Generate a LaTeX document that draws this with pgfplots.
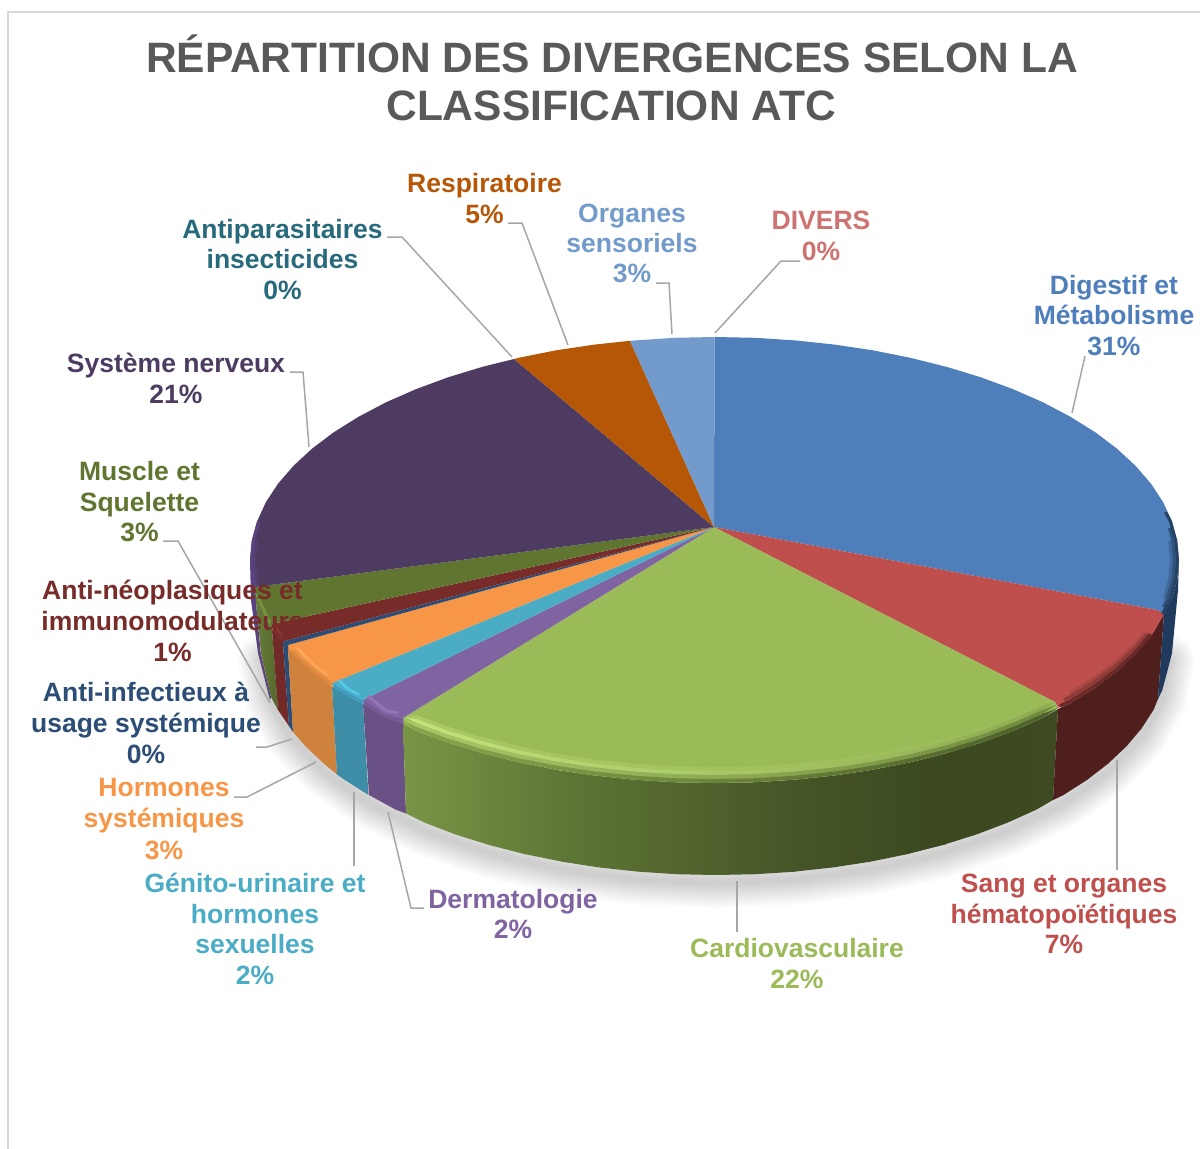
\documentclass[border=0pt]{standalone}
\usepackage{pgfplots}
\pgfplotsset{compat=1.18}
\usepackage{pgfplotstable}
\usepackage{fontspec}
\setmainfont{Liberation Sans}
\definecolor{cBlue}{HTML}{4F7FBB}
\definecolor{cRed}{HTML}{BF4F4C}
\definecolor{cGreen}{HTML}{9BBB59}
\definecolor{cPurple}{HTML}{8064A2}
\definecolor{cTeal}{HTML}{4BACC6}
\definecolor{cOrange}{HTML}{F79646}
\definecolor{cDBlue}{HTML}{2C4D75}
\definecolor{cDRed}{HTML}{772C2A}
\definecolor{cOlive}{HTML}{5F7530}
\definecolor{cDPurple}{HTML}{4D3B62}
\definecolor{cDTeal}{HTML}{276A7C}
\definecolor{cBrown}{HTML}{B65708}
\definecolor{cLBlue}{HTML}{729ACA}
\definecolor{cPink}{HTML}{CD7371}
\definecolor{cTitle}{HTML}{595959}
\definecolor{cLead}{HTML}{A6A6A6}
\definecolor{hCF823C}{HTML}{CF823C}
\definecolor{h3D8DA7}{HTML}{3D8DA7}
\definecolor{h6A5185}{HTML}{6A5185}
\definecolor{h7A9546}{HTML}{7A9546}
\definecolor{h5F7735}{HTML}{5F7735}
\definecolor{h465527}{HTML}{465527}
\definecolor{h3B4820}{HTML}{3B4820}
\definecolor{h3E4B22}{HTML}{3E4B22}
\definecolor{h4F1F1E}{HTML}{4F1F1E}
\definecolor{h1F3A5C}{HTML}{1F3A5C}
\definecolor{h5B4380}{HTML}{5B4380}
\definecolor{bAl}{RGB}{171,201,101}
\definecolor{bAm}{RGB}{162,193,95}
\definecolor{bBl}{RGB}{195,227,124}
\definecolor{bBm}{RGB}{173,203,105}
\definecolor{bBr}{RGB}{142,171,81}
\definecolor{bCl}{RGB}{169,200,102}
\definecolor{bCm}{RGB}{141,171,79}
\definecolor{bCr}{RGB}{111,138,63}
\definecolor{bDl}{RGB}{138,165,77}
\definecolor{bDm}{RGB}{111,138,62}
\definecolor{bDr}{RGB}{77,95,42}
\newcommand{\slice}[2]{\addplot[draw=none,fill=#1,forget plot] coordinates {#2} --cycle;}
\newcommand{\wall}[2]{\addplot[draw=none,fill=#1,forget plot] coordinates {#2} --cycle;}
\newcommand{\wallg}[3]{\addplot[draw=none,left color=#1,right color=#2,forget plot] coordinates {#3} --cycle;}
\newcommand{\band}[4]{\addplot[draw=none,left color=#1,middle color=#2,right color=#3,forget plot] coordinates {#4} --cycle;}
\newcommand{\rim}[4]{\addplot[draw={rgb,255:#1},line width=#2pt,yshift=#3pt,no marks,forget plot] coordinates {#4};}
\newcommand{\lead}[1]{\addplot[draw=cLead,line width=1.5pt,no marks,forget plot] coordinates {#1};}
\newcommand{\lab}[4]{\node[anchor=base,text=#1,inner sep=0pt,font=\fontsize{26.5}{30}\selectfont\bfseries] at (axis cs:#2,#3) {#4};}
\newcommand{\shadow}[1]{\addplot[draw=black,draw opacity=0.016,line width=#1pt,line cap=round,line join=round,yshift=-8pt,no marks,forget plot] coordinates {(1169,652)(1162.1,690.7)(1141.7,728.3)(1108.3,763.5)(1063,795.3)(1007.2,822.8)(942.5,845.1)(870.9,861.6)(794.6,871.6)(716,875)(637.4,871.6)(561.1,861.6)(489.5,845.1)(425,822.8)(369,795.3)(323.7,763.5)(290.3,728.3)(269.9,690.7)(263,652)};}
\begin{document}
\begin{tikzpicture}
\begin{axis}[
  width=1200pt,height=1149pt,scale only axis,
  xmin=0,xmax=1200,ymin=0,ymax=1149,y dir=reverse,
  hide axis,clip=true]
% page
\addplot[draw=none,fill=white,forget plot] coordinates {(0,0)(1200,0)(1200,1149)(0,1149)} --cycle;
% frame
\addplot[draw=black!15,line width=2pt,no marks,forget plot] coordinates {(8,1149)(8,12)(1200,12)};
% shadow
\shadow{50}\shadow{46}\shadow{42}\shadow{38}\shadow{34}\shadow{30}\shadow{26}\shadow{22}\shadow{18}\shadow{14}\shadow{10}\shadow{6}
% walls
\wall{h5B4380}{(250,560)(255,587)(256.7,610)(260.7,653)(271,697)(270,700)(258,653)(251,600)}
\wallg{cOlive!95!white}{cOlive!90!black}{(255,587)(257,598.7)(265.8,617.7)(272,630)(278,710)(271,697)(261,653)(256.7,610)}
\wall{cDRed!95!black}{(272,630)(278,636.3)(283,643)(289,726)(278,710)}
\wall{cDBlue}{(283,643)(288,648)(293,732)(289,726)}
\wall{hCF823C}{(288,648)(293.5,654.2)(312.2,671.5)(332,686)(337,774.5)(323.7,763.5)(305.4,746.2)(293,732)}
\wall{h3D8DA7}{(332,686)(348,696)(363,704)(368.5,795)(344.7,779.9)(337,774.5)}
\wall{h6A5185}{(363,704)(386,717.7)(403,722)(406,813.5)(395.7,809.7)(369,795)}
\wallg{h7A9546}{h5F7735}{(403,722)(415.9,730.8)(448.1,742.7)(482.2,753.1)(518.2,762.1)(555.6,769.6)(562,771)(562,861.6)(524.6,854.1)(489.5,845.1)(456.2,834.7)(425,822.8)(406,813.5)}
\wallg{h5F7735}{h465527}{(561,770.5)(594.3,775.4)(633.9,779.6)(674,782.2)(714.5,783)(755,782.2)(796,779.6)(796,871.6)(755.5,874.2)(716,875)(676.5,874.2)(637.4,871.6)(598.8,867.4)(561.1,861.6)}
\wallg{h465527}{h3B4820}{(795,779.6)(834.7,775.4)(873.4,769.6)(910.8,762.1)(946.8,753.1)(946.8,844)(907.4,854.1)(870.9,861.6)(833.2,867.4)(794.6,871.6)}
\wallg{h3B4820}{h3E4B22}{(946,753.1)(980.9,742.7)(1013.1,730.8)(1043,717.7)(1058,709)(1053,800)(1036.3,809.7)(1007.2,822.8)(975.8,834.7)(942.5,845.1)}
\wall{h4F1F1E}{(1058,709)(1070.3,703.3)(1095,687.9)(1116.8,671.5)(1135.5,654.2)(1151,636.3)(1164,614)(1158,699)(1153.6,709.7)(1141.7,728.3)(1126.6,746.2)(1108.3,763.5)(1087.1,779.9)(1063,795.3)(1053,800)}
\wall{h1F3A5C}{(1164,614)(1171.9,598.7)(1177.2,579.4)(1179,560)(1178,590)(1172,653)(1167.3,671.4)(1162.1,690.7)(1158,699)}
% top faces
\slice{cBlue}{(714,527)(714.5,337)(755,337.8)(795.1,340.4)(834.7,344.6)(873.4,350.4)(910.8,357.9)(946.8,366.9)(980.9,377.3)(1013.1,389.2)(1043,402.3)(1070.3,416.7)(1095,432.1)(1116.8,448.5)(1135.5,465.8)(1151,483.7)(1163.2,502.3)(1171.9,521.3)(1177.2,540.6)(1179,560)(1177.2,579.4)(1171.9,598.7)(1164,614)(1157,610)}
\slice{cRed}{(714,527)(1157,610)(1164,614)(1151,636.3)(1135.5,654.2)(1116.8,671.5)(1095,687.9)(1070.3,703.3)(1058,708)(1055,702)}
\slice{cGreen}{(714,527)(1055,702)(1058,708)(1043,717.7)(1013.1,730.8)(980.9,742.7)(946.8,753.1)(910.8,762.1)(873.4,769.6)(834.7,775.4)(795.1,779.6)(755,782.2)(714.5,783)(674,782.2)(633.9,779.6)(594.3,775.4)(555.6,769.6)(518.2,762.1)(482.2,753.1)(448.1,742.7)(415.9,730.8)(404,724)(403,718)}
\slice{cPurple}{(714,527)(403,718)(404,724)(386,717.7)(364,705)(363,700)}
\slice{cTeal}{(714,527)(363,700)(364,705)(348,696)(333,687.5)(332,683)}
\slice{cOrange}{(714,527)(332,683)(333,687.5)(312.2,671.5)(293.5,654.2)(288.5,649.5)(288,645)}
\slice{cDBlue}{(714,527)(288,645)(288.5,649.5)(283,644)(283,641.5)}
\slice{cDRed}{(714,527)(283,641.5)(283,644)(278,636.3)(272.5,631)(272,624)}
\slice{cOlive}{(714,527)(272,624)(272.5,631)(265.8,617.7)(257.1,598.7)(255,587)}
\slice{cDPurple}{(714,527)(255,587)(251.8,579.4)(250,560)(251.8,540.6)(257.1,521.3)(265.8,502.3)(278,483.7)(293.5,465.8)(312.2,448.5)(334,432.1)(358.7,416.7)(386,402.3)(415.9,389.2)(448.1,377.3)(482.2,366.9)(514,359)}
\slice{cBrown}{(714,527)(514,359)(518.2,357.9)(555.6,350.4)(594.3,344.6)(630,340.8)}
\slice{cLBlue}{(714,527)(630,340.8)(674,337.8)(714.5,337)}
% bevel: green, four crescents shaded along the arc
\band{bAl}{bAm}{cGreen}{(406,716)(416,718.8)(448,730.7)(482,741.1)(518,750.1)(556,757.6)(594,763.4)(634,767.6)(674,770.2)(714.5,771)(755,770.2)(795,767.6)(835,763.4)(873,757.6)(911,750.1)(947,741.1)(981,730.7)(1013,718.8)(1043,705.7)(1053,700)(1043,701.7)(1013,714.8)(981,726.7)(947,737.1)(911,746.1)(873,753.6)(835,759.4)(795,763.6)(755,766.2)(714.5,767)(674,766.2)(634,763.6)(594,759.4)(556,753.6)(518,746.1)(482,737.1)(448,726.7)(416,714.8)}
\band{bBl}{bBm}{bBr}{(405,717)(416,722.8)(448,734.7)(482,745.1)(518,754.1)(556,761.6)(594,767.4)(634,771.6)(674,774.2)(714.5,775)(755,774.2)(795,771.6)(835,767.4)(873,761.6)(911,754.1)(947,745.1)(981,734.7)(1013,722.8)(1043,709.7)(1055,702)(1043,705.7)(1013,718.8)(981,730.7)(947,741.1)(911,750.1)(873,757.6)(835,763.4)(795,767.6)(755,770.2)(714.5,771)(674,770.2)(634,767.6)(594,763.4)(556,757.6)(518,750.1)(482,741.1)(448,730.7)(416,718.8)}
\band{bCl}{bCm}{bCr}{(404,719)(416,726.8)(448,738.7)(482,749.1)(518,758.1)(556,765.6)(594,771.4)(634,775.6)(674,778.2)(714.5,779)(755,778.2)(795,775.6)(835,771.4)(873,765.6)(911,758.1)(947,749.1)(981,738.7)(1013,726.8)(1043,713.7)(1056,705)(1043,709.7)(1013,722.8)(981,734.7)(947,745.1)(911,754.1)(873,761.6)(835,767.4)(795,771.6)(755,774.2)(714.5,775)(674,774.2)(634,771.6)(594,767.4)(556,761.6)(518,754.1)(482,745.1)(448,734.7)(416,722.8)}
\band{bDl}{bDm}{bDr}{(404,722)(416,730.8)(448,742.7)(482,753.1)(518,762.1)(556,769.6)(594,775.4)(634,779.6)(674,782.2)(714.5,783)(755,782.2)(795,779.6)(835,775.4)(873,769.6)(911,762.1)(947,753.1)(981,742.7)(1013,730.8)(1043,717.7)(1058,708)(1043,713.7)(1013,726.8)(981,738.7)(947,749.1)(911,758.1)(873,765.6)(835,771.4)(795,775.6)(755,778.2)(714.5,779)(674,778.2)(634,775.6)(594,771.4)(556,765.6)(518,758.1)(482,749.1)(448,738.7)(416,726.8)}
% bevel: red
\rim{red,171;green,72;blue,69}{3.5}{10}{(1070.3,703.3)(1095,687.9)(1116.8,671.5)(1135.5,654.2)(1145,643)}
\rim{red,143;green,60;blue,57}{3.5}{6.5}{(1064,706.3)(1070.3,703.3)(1095,687.9)(1116.8,671.5)(1135.5,654.2)(1148,640)}
\rim{red,106;green,42;blue,40}{3.5}{2}{(1060,708)(1070.3,703.3)(1095,687.9)(1116.8,671.5)(1135.5,654.2)(1151,636.3)}
% bevel: blue
\addplot[draw={rgb,255:red,64;green,106;blue,156},line width=3pt,xshift=-7.5pt,no marks,forget plot] coordinates {(1177.2,540.6)(1179,560)(1177.2,579.4)(1171.9,598.7)};
\addplot[draw={rgb,255:red,50;green,84;blue,124},line width=3pt,xshift=-4.5pt,no marks,forget plot] coordinates {(1174,528)(1177.2,540.6)(1179,560)(1177.2,579.4)(1171.9,598.7)(1168,607)};
\addplot[draw={rgb,255:red,38;green,66;blue,100},line width=3pt,xshift=-1.5pt,no marks,forget plot] coordinates {(1167,512)(1171.9,521.3)(1177.2,540.6)(1179,560)(1177.2,579.4)(1171.9,598.7)(1164,614)};
% bevel: dark purple, left edge
\addplot[draw=h5B4380!60!cDPurple,line width=3pt,xshift=4.5pt,no marks,forget plot] coordinates {(251.8,540.6)(250,560)(251.8,579.4)};
\addplot[draw=h5B4380,line width=3pt,xshift=1.5pt,no marks,forget plot] coordinates {(257.1,521.3)(251.8,540.6)(250,560)(251.8,579.4)(255,587)};
% bevel: small slices
\rim{red,255;green,168;blue,90}{3}{7.5}{(297,655)(312.2,671.5)(327,683)}
\rim{red,238;green,150;blue,76}{3}{4.5}{(294,654.5)(312.2,671.5)(330,685)}
\rim{red,222;green,138;blue,62}{3}{1.5}{(291,652)(312.2,671.5)(332,686)}
\rim{red,88;green,200;blue,230}{3}{7}{(339,687)(348,696)(359,702)}
\rim{red,76;green,175;blue,208}{3}{4}{(336,688)(348,696)(361,703)}
\rim{red,66;green,155;blue,186}{3}{1.5}{(334,688)(348,696)(363,704)}
\rim{red,148;green,117;blue,184}{3}{7}{(368,703)(386,717.7)(398,720)}
\rim{red,130;green,102;blue,165}{3}{4}{(366,705)(386,717.7)(401,722)}
\rim{red,116;green,90;blue,148}{3}{1.5}{(364,704.5)(386,717.7)(403,722)}
\rim{red,140;green,56;blue,52}{3}{5}{(275,630)(278,636.3)(281,640)}
\rim{red,125;green,48;blue,46}{3}{2}{(274,632)(278,636.3)(282,641)}
\rim{red,116;green,146;blue,59}{3}{3}{(259,602)(265.8,617.7)(270,626)}
% leaders
\lead{(1072,413)(1085,356)}
\lead{(715,333)(781,261)(800,261)}
\lead{(672,334)(669,283)(656,283)}
\lead{(568,345)(522,223)(508,223)}
\lead{(512,357)(402,237)(387,237)}
\lead{(309,447)(303,372)(290,372)}
\lead{(270,703)(178,541)(163,541)}
\lead{(292,739)(267,747)(256,747)}
\lead{(316,762)(247,797)(234,797)}
\lead{(354,792)(354,866)}
\lead{(388,812)(411,908)(424,908)}
\lead{(737,881)(737,932)}
\lead{(1117,760)(1117,870)}
% title
\node[anchor=base,text=cTitle,inner sep=0pt,font=\fontsize{42.5}{50}\selectfont\bfseries] at (axis cs:612,72) {RÉPARTITION DES DIVERGENCES SELON LA};
\node[anchor=base,text=cTitle,inner sep=0pt,font=\fontsize{42.5}{50}\selectfont\bfseries] at (axis cs:611,120) {CLASSIFICATION ATC};
% labels
\lab{cBlue}{1114}{294}{Digestif et}
\lab{cBlue}{1114}{324}{Métabolisme}
\lab{cBlue}{1114}{355}{31\%}
\lab{cPink}{821}{229}{DIVERS}
\lab{cPink}{821}{260}{0\%}
\lab{cLBlue}{632}{222}{Organes}
\lab{cLBlue}{632}{252}{sensoriels}
\lab{cLBlue}{632}{282}{3\%}
\lab{cBrown}{484.5}{192}{Respiratoire}
\lab{cBrown}{484.5}{223}{5\%}
\lab{cDTeal}{282.5}{238}{Antiparasitaires}
\lab{cDTeal}{282.5}{268}{insecticides}
\lab{cDTeal}{282.5}{299}{0\%}
\lab{cDPurple}{176}{372}{Système nerveux}
\lab{cDPurple}{176}{403}{21\%}
\lab{cOlive}{139.5}{480}{Muscle et}
\lab{cOlive}{139.5}{511}{Squelette}
\lab{cOlive}{139.5}{541}{3\%}
\lab{cDRed}{172.5}{599}{Anti-néoplasiques et}
\lab{cDRed}{172.5}{630}{immunomodulateurs}
\lab{cDRed}{172.5}{661}{1\%}
\lab{cDBlue}{146}{701}{Anti-infectieux à}
\lab{cDBlue}{146}{732}{usage systémique}
\lab{cDBlue}{146}{763}{0\%}
\lab{cOrange}{164}{796}{Hormones}
\lab{cOrange}{164}{827}{systémiques}
\lab{cOrange}{164}{859}{3\%}
\lab{cTeal}{255}{892}{Génito-urinaire et}
\lab{cTeal}{255}{923}{hormones}
\lab{cTeal}{255}{953}{sexuelles}
\lab{cTeal}{255}{984}{2\%}
\lab{cPurple}{513}{908}{Dermatologie}
\lab{cPurple}{513}{938}{2\%}
\lab{cGreen}{797}{957}{Cardiovasculaire}
\lab{cGreen}{797}{988}{22\%}
\lab{cRed}{1064}{892}{Sang et organes}
\lab{cRed}{1064}{923}{hématopoïétiques}
\lab{cRed}{1064}{953}{7\%}
\end{axis}
\end{tikzpicture}
\end{document}
